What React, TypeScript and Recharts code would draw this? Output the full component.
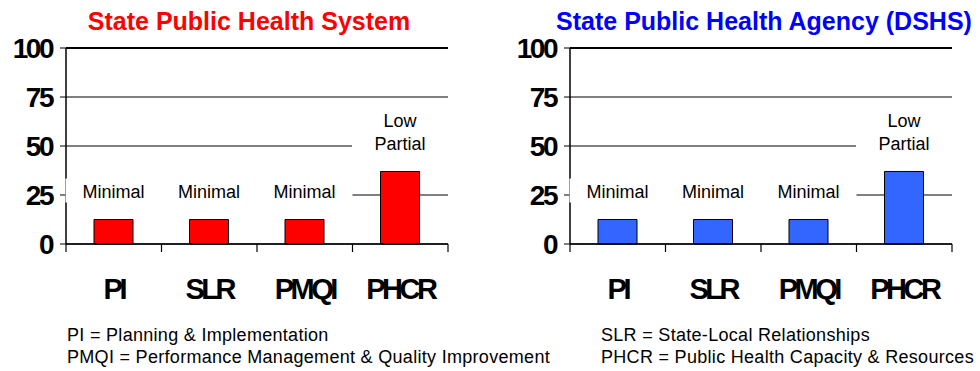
import React from 'react';
import { BarChart, Bar, XAxis, YAxis, CartesianGrid, ReferenceLine, LabelList } from 'recharts';

const categories = ['PI', 'SLR', 'PMQI', 'PHCR'];
const systemScores = [12.5, 12.5, 12.5, 37];
const agencyScores = [12.5, 12.5, 12.5, 37];
const ratingLabels = ['Minimal', 'Minimal', 'Minimal', 'Low\nPartial'];
const yTicks = [0, 25, 50, 75, 100];
const legendLeft = ['PI = Planning & Implementation', 'PMQI = Performance Management & Quality Improvement'];
const legendRight = ['SLR = State-Local Relationships', 'PHCR = Public Health Capacity & Resources'];

const FONT = '"Liberation Sans", Arial, sans-serif';
const CHART_W = 480;
const CHART_H = 310;
const MARGIN = { top: 48, right: 32, bottom: 6, left: 6 };
const Y_AXIS_W = 60;

// half of a category band, used when tick payload has no offset
const HALF_BAND = (CHART_W - MARGIN.left - Y_AXIS_W - MARGIN.right) / categories.length / 2;

function CategoryTick(props: any) {
  const { x, y, payload, index } = props;
  const half = payload && payload.offset ? payload.offset : HALF_BAND;
  const isLast = index === categories.length - 1;
  return (
    <g>
      <line x1={x - half} x2={x - half} y1={y} y2={y + 8} stroke="#000" strokeWidth={1.2} />
      {isLast && <line x1={x + half} x2={x + half} y1={y} y2={y + 8} stroke="#000" strokeWidth={1.2} />}
      <text
        x={x}
        y={y + 55}
        textAnchor="middle"
        fontFamily={FONT}
        fontWeight="bold"
        fontSize={29}
        letterSpacing={-3.5}
        fill="#000"
      >
        {payload.value}
      </text>
    </g>
  );
}

function RatingLabel(props: any) {
  const { x, y, width, value } = props;
  const lines = String(value).split('\n');
  const cx = x + width / 2;
  const lastCenter = y - 28;
  const firstCenter = lastCenter - (lines.length - 1) * 23;
  return (
    <g>
      <rect x={cx - 48} y={firstCenter - 13} width={96} height={lastCenter - firstCenter + 24} fill="#fff" />
      {lines.map((line, i) => (
        <text
          key={i}
          x={cx}
          y={firstCenter + i * 23}
          dy="0.35em"
          textAnchor="middle"
          fontFamily={FONT}
          fontSize={18}
          fill="#000"
        >
          {line}
        </text>
      ))}
    </g>
  );
}

function ScorePanel({ title, titleColor, titleShift, fill, values, left }: any) {
  const data = categories.map((c, i) => ({ name: c, score: values[i], rating: ratingLabels[i] }));
  return (
    <div style={{ position: 'absolute', left, top: 0, width: CHART_W, height: CHART_H }}>
      <div
        style={{
          position: 'absolute',
          left: titleShift,
          top: 9,
          width: CHART_W,
          textAlign: 'center',
          fontFamily: FONT,
          fontWeight: 'bold',
          fontSize: 25,
          lineHeight: '25px',
          color: titleColor,
          whiteSpace: 'nowrap',
        }}
      >
        {title}
      </div>
      <BarChart width={CHART_W} height={CHART_H} data={data} margin={MARGIN} style={{ position: 'absolute', left: 0, top: 0 }}>
        <CartesianGrid vertical={false} stroke="#000" strokeWidth={1} />
        <XAxis
          dataKey="name"
          height={CHART_H - MARGIN.top - MARGIN.bottom - 196}
          axisLine={{ stroke: '#000', strokeWidth: 1.5 }}
          tickLine={false}
          tickSize={0}
          tickMargin={0}
          interval={0}
          tick={<CategoryTick />}
        />
        <YAxis
          domain={[0, 100]}
          ticks={yTicks}
          width={Y_AXIS_W}
          axisLine={{ stroke: '#000', strokeWidth: 1.5 }}
          tickLine={{ stroke: '#000' }}
          tickSize={6}
          tickMargin={8}
          interval={0}
          tick={{ fontFamily: FONT, fontWeight: 'bold', fontSize: 28, letterSpacing: -2.5, fill: '#000' }}
        />
        <YAxis yAxisId="frame" orientation="right" domain={[0, 100]} width={0} tick={false} tickLine={false} axisLine={{ stroke: '#555', strokeWidth: 1 }} />
        <ReferenceLine y={100} stroke="#000" strokeWidth={2} />
        <Bar dataKey="score" fill={fill} stroke="#000" strokeWidth={1} barSize={39} isAnimationActive={false}>
          <LabelList dataKey="rating" content={<RatingLabel />} />
        </Bar>
      </BarChart>
    </div>
  );
}

export default function App() {
  const legendStyle: React.CSSProperties = {
    position: 'absolute',
    fontFamily: FONT,
    fontSize: 18,
    letterSpacing: 0.3,
    color: '#000',
    lineHeight: '22px',
    whiteSpace: 'nowrap',
  };
  return (
    <div style={{ position: 'absolute', left: 0, top: 0, width: 980, height: 371, background: '#fff', overflow: 'hidden' }}>
      <ScorePanel title="State Public Health System" titleColor="#ff0000" titleShift={9} fill="#ff0000" values={systemScores} left={0} />
      <ScorePanel title="State Public Health Agency (DSHS)" titleColor="#0000ff" titleShift={20} fill="#3366ff" values={agencyScores} left={504} />
      <div style={{ ...legendStyle, left: 67, top: 324 }}>
        {legendLeft.map((t) => (
          <div key={t}>{t}</div>
        ))}
      </div>
      <div style={{ ...legendStyle, left: 601, top: 324 }}>
        {legendRight.map((t) => (
          <div key={t}>{t}</div>
        ))}
      </div>
    </div>
  );
}
